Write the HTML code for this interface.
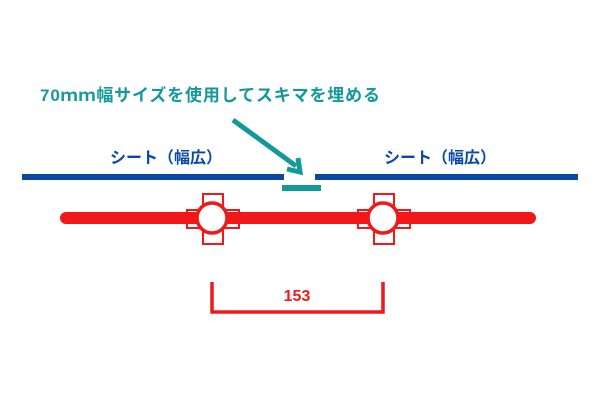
<!DOCTYPE html>
<html><head><meta charset="utf-8"><style>
html,body{margin:0;padding:0;background:#fff;width:600px;height:400px;overflow:hidden}
</style></head><body>
<svg width="600" height="400" xmlns="http://www.w3.org/2000/svg" style="font-family:'Liberation Sans','Noto Sans CJK JP',sans-serif;font-weight:bold">
<text x="40" y="101" font-size="17" fill="#14999a" textLength="340" lengthAdjust="spacing">70ｍｍ幅サイズを使用してスキマを埋める</text>
<line x1="233" y1="120" x2="296" y2="166" stroke="#14999a" stroke-width="5"/>
<polyline points="287,169 300,172 298,158" fill="none" stroke="#14999a" stroke-width="5"/>
<text x="166" y="163" font-size="16" fill="#0a48a8" text-anchor="middle">シート（幅広）</text>
<text x="440" y="163" font-size="16" fill="#0a48a8" text-anchor="middle">シート（幅広）</text>
<rect x="22" y="174" width="262" height="6" fill="#0a48a8"/>
<rect x="315" y="174" width="263" height="6" fill="#0a48a8"/>
<rect x="282" y="185" width="39" height="6" fill="#14999a"/>
<g stroke="#f01818" stroke-width="2" fill="#fff">
<path d="M203,194h20v16h16v18h-16v16h-20v-16h-16v-18h16z"/>
<path d="M374,194h20v16h16v18h-16v16h-20v-16h-16v-18h16z"/>
</g>
<line x1="66" y1="218" x2="530" y2="218" stroke="#f01818" stroke-width="12" stroke-linecap="round"/>
<circle cx="212" cy="218" r="15" fill="#fff" stroke="#f01818" stroke-width="3.5"/>
<circle cx="383" cy="218" r="15" fill="#fff" stroke="#f01818" stroke-width="3.5"/>
<polyline points="212,282 212,312 383,312 383,282" fill="none" stroke="#f01818" stroke-width="3.5"/>
<text x="297" y="301" font-size="16" fill="#f01818" text-anchor="middle">153</text>
</svg>
</body></html>
